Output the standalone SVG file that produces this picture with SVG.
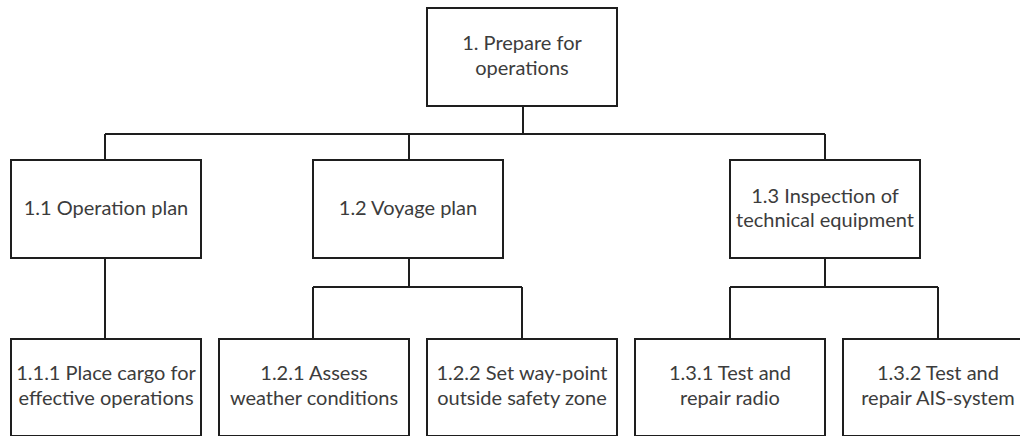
<svg xmlns="http://www.w3.org/2000/svg" width="1020" height="436" viewBox="0 0 1020 436">
  <style>
    .box { fill: #ffffff; stroke: #1e1e1e; stroke-width: 2; }
    .wire { fill: none; stroke: #1e1e1e; stroke-width: 2; }
    .label { font-family: "Lato", "Liberation Sans", sans-serif; font-size: 20px; fill: #3c3c3c; text-anchor: middle; }
  </style>
  <rect width="1020" height="436" fill="#ffffff"/>

  <!-- tree connectors -->
  <g id="connectors" class="wire">
    <path d="M523 106 V134 M105 134 H825 M105 134 V160 M409 134 V160 M825 134 V160"/>
    <path d="M105 258 V339"/>
    <path d="M409 258 V287 M313 287 H522 M313 287 V339 M522 287 V339"/>
    <path d="M825 258 V287 M730 287 H938 M730 287 V339 M938 287 V339"/>
  </g>

  <!-- root -->
  <g id="n1">
    <rect class="box" x="427" y="8" width="190" height="98"/>
    <text class="label" x="522" y="50">1. Prepare for</text>
    <text class="label" x="522" y="75">operations</text>
  </g>

  <!-- second level -->
  <g id="n1_1">
    <rect class="box" x="11" y="160" width="190" height="98"/>
    <text class="label" x="106" y="215">1.1 Operation plan</text>
  </g>
  <g id="n1_2">
    <rect class="box" x="313" y="160" width="190" height="98"/>
    <text class="label" x="408" y="215">1.2 Voyage plan</text>
  </g>
  <g id="n1_3">
    <rect class="box" x="730" y="160" width="190" height="98"/>
    <text class="label" x="825" y="203">1.3 Inspection of</text>
    <text class="label" x="825" y="227">technical equipment</text>
  </g>

  <!-- third level -->
  <g id="n1_1_1">
    <rect class="box" x="11" y="339" width="190" height="97"/>
    <text class="label" x="106" y="380">1.1.1 Place cargo for</text>
    <text class="label" x="106" y="405">effective operations</text>
  </g>
  <g id="n1_2_1">
    <rect class="box" x="219" y="339" width="190" height="97"/>
    <text class="label" x="314" y="380">1.2.1 Assess</text>
    <text class="label" x="314" y="405">weather conditions</text>
  </g>
  <g id="n1_2_2">
    <rect class="box" x="427" y="339" width="190" height="97"/>
    <text class="label" x="522" y="380">1.2.2 Set way-point</text>
    <text class="label" x="522" y="405">outside safety zone</text>
  </g>
  <g id="n1_3_1">
    <rect class="box" x="635" y="339" width="190" height="97"/>
    <text class="label" x="730" y="380">1.3.1 Test and</text>
    <text class="label" x="730" y="405">repair radio</text>
  </g>
  <g id="n1_3_2">
    <rect class="box" x="843" y="339" width="190" height="97"/>
    <text class="label" x="938" y="380">1.3.2 Test and</text>
    <text class="label" x="938" y="405">repair AIS-system</text>
  </g>
</svg>
